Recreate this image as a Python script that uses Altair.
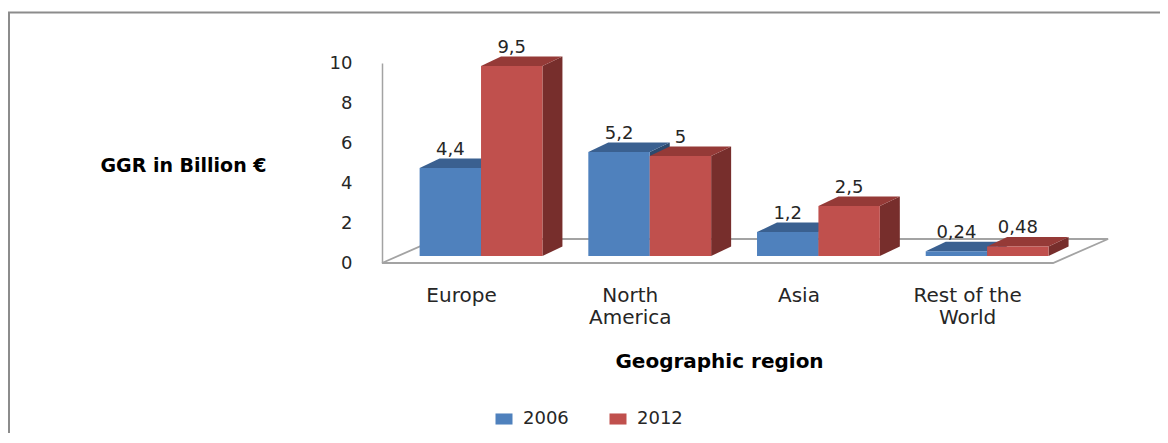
import json
import altair as alt
import pandas as pd

# ---------------- data ----------------
regions = ["Europe", "North America", "Asia", "Rest of the World"]
region_lines = [["Europe"], ["North", "America"], ["Asia"], ["Rest of the", "World"]]
years = ["2006", "2012"]
ggr_2006 = [4.4, 5.2, 1.2, 0.24]
ggr_2012 = [9.5, 5.0, 2.5, 0.48]
y_ticks = [0, 2, 4, 6, 8, 10]

# ---------------- style / geometry ----------------
FONT = "DejaVu Sans"
BLUE, RED = "#4F81BD", "#C0504D"
BLUE_TOP, RED_TOP = "#3A6090", "#953A37"
BLUE_SIDE, RED_SIDE = "#2D4A6E", "#772E2C"
GRID_GRAY = "#A3A3A3"

PX_PER_CAT = 168.7
PLOT_W = 726
PLOT_H = 200
Y_MAX = 10
PX_PER_UNIT = PLOT_H / Y_MAX
X_MIN = -0.587
X_MAX = X_MIN + PLOT_W / PX_PER_CAT
BAR_W = 0.364
BASE = 7 / PX_PER_UNIT
DEPTH_X = 20 / PX_PER_CAT
DEPTH_Y = 9.5 / PX_PER_UNIT
FLOOR_DX = 55 / PX_PER_CAT
FLOOR_DY = 24 / PX_PER_UNIT
FLOOR_RIGHT_PAD = 0.391

series = {"2006": ggr_2006, "2012": ggr_2012}

front_rows, top_rows, side_rows, label_rows = [], [], [], []
for s, yr in enumerate(years):
    for i, v in enumerate(series[yr]):
        bid = f"b{s}{i}"
        x0 = i - BAR_W + s * BAR_W
        x1 = x0 + BAR_W
        b = BASE
        t = BASE + v
        front_rows.append(dict(year=yr, x0=x0, x1=x1, y0=b, y1=t))
        for xx, lo, hi in [(x0, t, t), (x0 + DEPTH_X, t, t + DEPTH_Y),
                           (x1, t, t + DEPTH_Y), (x1 + DEPTH_X, t + DEPTH_Y, t + DEPTH_Y)]:
            top_rows.append(dict(year=yr, bid=bid, px=xx, lo=lo, hi=hi))
        for xx, lo, hi in [(x1, b, t), (x1 + DEPTH_X, b + DEPTH_Y, t + DEPTH_Y)]:
            side_rows.append(dict(year=yr, bid=bid, px=xx, lo=lo, hi=hi))
        label_rows.append(dict(year=yr, x=(x0 + x1) / 2, y=t + DEPTH_Y,
                               text=f"{v:g}".replace(".", ",")))

fronts = pd.DataFrame(front_rows)
tops = pd.DataFrame(top_rows)
sides = pd.DataFrame(side_rows)
labels = pd.DataFrame(label_rows)

last = len(regions) - 1
floor = pd.DataFrame([
    dict(k=0, x=X_MIN, y=0),
    dict(k=1, x=last + FLOOR_RIGHT_PAD, y=0),
    dict(k=2, x=last + FLOOR_RIGHT_PAD + FLOOR_DX, y=FLOOR_DY),
    dict(k=3, x=X_MIN + FLOOR_DX, y=FLOOR_DY),
    dict(k=4, x=X_MIN, y=0),
])

xscale = alt.Scale(domain=[X_MIN, X_MAX], nice=False, zero=False)
yscale = alt.Scale(domain=[0, Y_MAX], nice=False, zero=False)

xaxis = alt.Axis(
    values=list(range(len(regions))),
    labelExpr=f"{json.dumps(region_lines)}[datum.value]",
    domain=False, ticks=False, grid=False,
    labelFont=FONT, labelFontSize=20, labelColor="#262626",
    labelPadding=22, labelLineHeight=22, labelOffset=-20,
    labelFlush=False, labelOverlap=False,
    title="Geographic region", titleFont=FONT, titleFontSize=20,
    titleFontWeight="bold", titleColor="#000000",
    titleX=337, titleY=98, titleAlign="center", titleBaseline="middle",
)
yaxis = alt.Axis(
    values=y_ticks, domain=True, domainColor=GRID_GRAY, domainWidth=1.5,
    ticks=False, grid=False,
    labelFont=FONT, labelFontSize=18, labelColor="#262626", labelPadding=30,
    title="GGR in Billion €", titleFont=FONT, titleFontSize=19,
    titleFontWeight="bold", titleColor="#000000", titleAngle=0,
    titleX=-199, titleY=102, titleAlign="center", titleBaseline="middle",
)

def X(f):
    return alt.X(f, type="quantitative", scale=xscale, axis=xaxis)

def Y(f):
    return alt.Y(f, type="quantitative", scale=yscale, axis=yaxis)

floor_layer = alt.Chart(floor).mark_line(color=GRID_GRAY, strokeWidth=1.8).encode(
    x=X("x"), y=Y("y"), order="k:Q")

color_enc = alt.Color(
    "year:N",
    scale=alt.Scale(domain=years, range=[BLUE, RED]),
    legend=alt.Legend(
        orient="none", legendX=113, legendY=347, direction="horizontal",
        title=None, padding=0,
        symbolType="M-1,-0.65L1,-0.65L1,0.65L-1,0.65Z", symbolSize=289,
        symbolStrokeWidth=0, symbolOpacity=1,
        labelFont=FONT, labelFontSize=18, labelColor="#262626",
        labelOffset=10, columnPadding=40,
    ),
)

layers = [floor_layer]
for yr, ctop, cside in [("2006", BLUE_TOP, BLUE_SIDE), ("2012", RED_TOP, RED_SIDE)]:
    side = alt.Chart(sides[sides.year == yr]).mark_area(
        fill=cside, fillOpacity=1, opacity=1, line=False).encode(
        x=X("px"), y=Y("lo"), y2=alt.Y2("hi"), detail="bid:N")
    top = alt.Chart(tops[tops.year == yr]).mark_area(
        fill=ctop, fillOpacity=1, opacity=1, line=False).encode(
        x=X("px"), y=Y("lo"), y2=alt.Y2("hi"), detail="bid:N")
    front = alt.Chart(fronts[fronts.year == yr]).mark_rect().encode(
        x=X("x0"), x2="x1", y=Y("y0"), y2="y1", color=color_enc)
    layers += [side, top, front]

text_layer = alt.Chart(labels).mark_text(
    font=FONT, fontSize=18, color="#262626", baseline="alphabetic", dy=-4
).encode(x=X("x"), y=Y("y"), text="text:N")

frame = alt.Chart(pd.DataFrame({"a": [0]})).mark_rect(
    filled=False, stroke="#8C8C8C", strokeWidth=2
).encode(x=alt.value(-373), x2=alt.value(1400), y=alt.value(-50.5), y2=alt.value(600))

chart = alt.layer(*layers, text_layer, frame).properties(
    width=PLOT_W, height=PLOT_H,
    autosize=alt.AutoSizeParams(type="none"),
    padding={"left": 374, "top": 55, "right": 52, "bottom": 170},
    background="white",
).configure_view(stroke=None)

chart.save("out.html", embed_options={"renderer": "svg", "actions": False})
